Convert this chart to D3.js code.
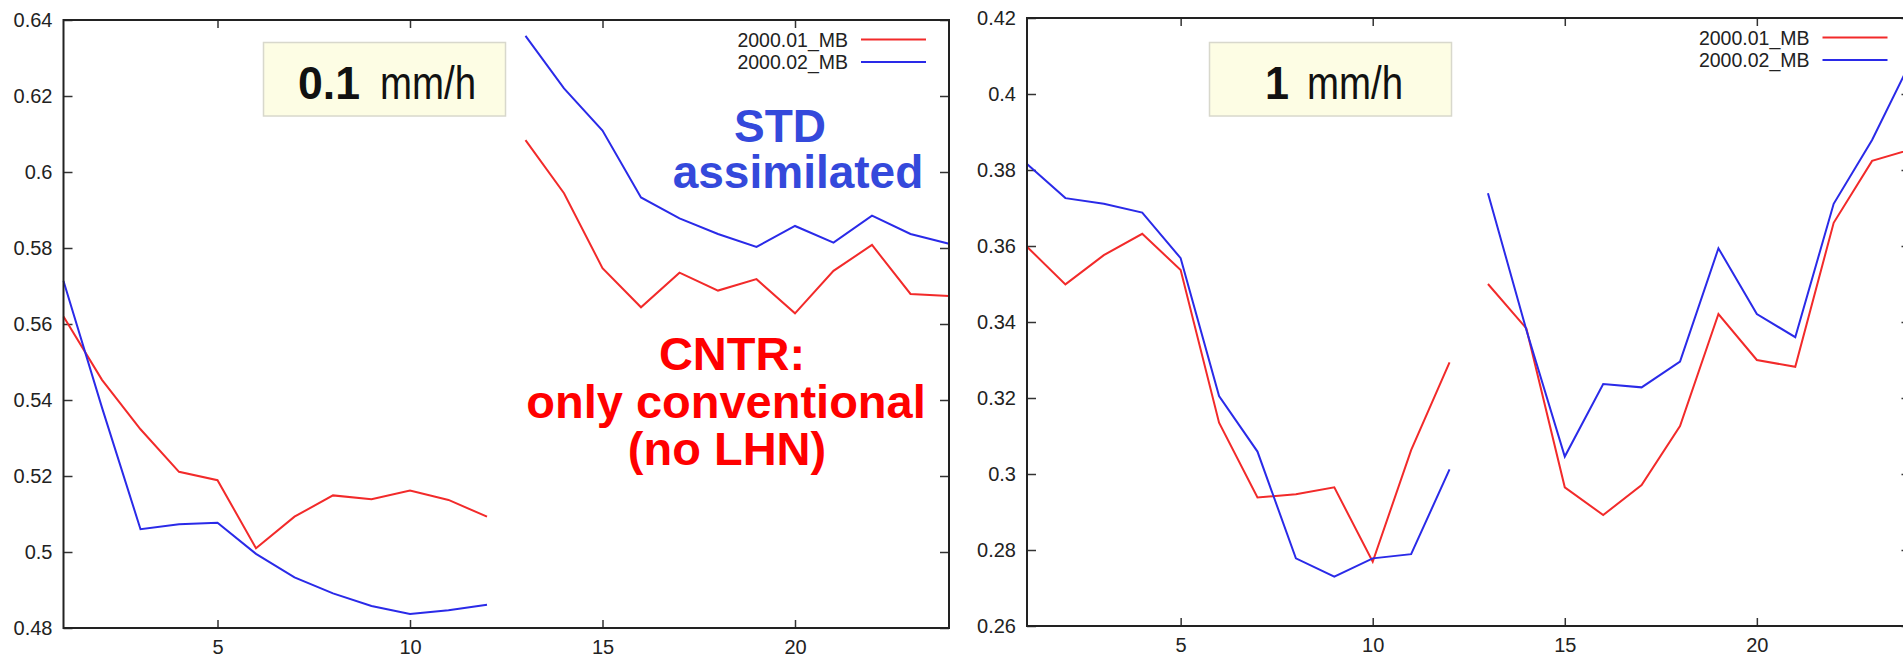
<!DOCTYPE html>
<html>
<head>
<meta charset="utf-8">
<script src="https://cdn.jsdelivr.net/npm/d3@7"></script>
<style>
  body { margin: 0; background: #fff; }
  svg { display: block; font-family: "Liberation Sans", Arial, sans-serif; }
</style>
</head>
<body>
<svg width="1903" height="656"></svg>
<script>
// hour of day, the curves break between 12 and 13
let hours = [1, 2, 3, 4, 5, 6, 7, 8, 9, 10, 11, 12, 13, 14, 15, 16, 17, 18, 19, 20, 21, 22, 23, 24];

let seriesNames = ["2000.01_MB", "2000.02_MB"];
let seriesColors = ["#f22a2a", "#2a2ae8"];

// threshold 0.1 mm/h
let left01 = [0.562, 0.5453, 0.5323, 0.5211, 0.5189, 0.5010, 0.5093, 0.5149, 0.5139, 0.5162, 0.5137, 0.5093,
              0.6084, 0.5944, 0.5747, 0.5644, 0.5735, 0.5688, 0.5718, 0.5628, 0.5740, 0.5808, 0.5679, 0.5674];
let left02 = [0.5713, 0.538, 0.5060, 0.5073, 0.5077, 0.4995, 0.4933, 0.4891, 0.4858, 0.4837, 0.4847, 0.4861,
              0.6358, 0.6220, 0.6109, 0.5933, 0.5878, 0.5837, 0.5803, 0.5858, 0.5814, 0.5885, 0.5837, 0.5811];

// threshold 1 mm/h
let right01 = [0.3598, 0.3499, 0.3576, 0.3632, 0.3537, 0.3135, 0.2938, 0.2947, 0.2965, 0.2769, 0.3063, 0.3294,
               0.3500, 0.3383, 0.2965, 0.2892, 0.2971, 0.3126, 0.3421, 0.3300, 0.3282, 0.3661, 0.3824, 0.3854];
let right02 = [0.3816, 0.3726, 0.3711, 0.3688, 0.3568, 0.3205, 0.3059, 0.2778, 0.2730, 0.2778, 0.2789, 0.3012,
               0.3739, 0.3379, 0.3046, 0.3237, 0.3228, 0.3296, 0.3594, 0.3421, 0.3360, 0.3711, 0.3879, 0.4084];

let xTicks = [5, 10, 15, 20];
let leftYTicks = [0.48, 0.50, 0.52, 0.54, 0.56, 0.58, 0.60, 0.62, 0.64];
let rightYTicks = [0.26, 0.28, 0.30, 0.32, 0.34, 0.36, 0.38, 0.40, 0.42];

let svg = d3.select("svg");

var drawPanel = function(p) {
  let x = d3.scaleLinear().domain([1, 24]).range([p.left, p.right]);
  let y = d3.scaleLinear().domain([p.yTicks[0], p.yTicks[p.yTicks.length - 1]]).range([p.bottom, p.top]);

  let g = svg.append("g");
  let fmt = function(d) { return String(+d.toFixed(2)); };

  // all ticks point inward, only left and bottom get labels
  let yAxisL = d3.axisLeft(y).tickValues(p.yTicks).tickSize(-9).tickSizeOuter(0).tickPadding(11).tickFormat(fmt);
  let yAxisR = d3.axisRight(y).tickValues(p.yTicks).tickSize(-9).tickSizeOuter(0).tickFormat("");
  let xAxisB = d3.axisBottom(x).tickValues(xTicks).tickSize(-8).tickSizeOuter(0).tickPadding(12);
  let xAxisT = d3.axisTop(x).tickValues(xTicks).tickSize(-8).tickSizeOuter(0).tickFormat("");

  g.append("g").attr("transform", "translate(" + p.left + ",0)").call(yAxisL);
  g.append("g").attr("transform", "translate(" + p.right + ",0)").call(yAxisR);
  g.append("g").attr("transform", "translate(0," + p.bottom + ")").call(xAxisB);
  g.append("g").attr("transform", "translate(0," + p.top + ")").call(xAxisT);

  g.selectAll(".domain").remove();
  g.selectAll(".tick line").attr("stroke", "#333").attr("stroke-width", 1.5);
  g.selectAll(".tick text")
    .attr("fill", "#222")
    .style("font-size", "20px")
    .style("font-family", "'Liberation Sans', Arial, sans-serif");

  let line = d3.line()
    .defined(function(d) { return d[1] != null; })
    .x(function(d) { return x(d[0]); })
    .y(function(d) { return y(d[1]); });

  // cut each curve into two pieces, 1-12 and 13-24
  p.series.forEach(function(vals, s) {
    let pts = hours.map(function(h, i) { return [h, vals[i]]; });
    [pts.slice(0, 12), pts.slice(12)].forEach(function(part) {
      g.append("path")
        .attr("d", line(part))
        .attr("fill", "none")
        .attr("stroke", seriesColors[s])
        .attr("stroke-width", 2);
    });
  });

  // frame
  g.append("rect")
    .attr("x", p.left)
    .attr("y", p.top)
    .attr("width", p.right - p.left)
    .attr("height", p.bottom - p.top)
    .attr("fill", "none")
    .attr("stroke", "#222")
    .attr("stroke-width", 2);

  // legend in the top right corner
  seriesNames.forEach(function(name, s) {
    let ly = p.top + 19.5 + s * 22.4;
    g.append("text")
      .attr("x", p.right - 101)
      .attr("y", ly + 7)
      .attr("text-anchor", "end")
      .style("font-size", "19.5px")
      .attr("fill", "#222")
      .text(name);
    g.append("line")
      .attr("x1", p.right - 88)
      .attr("x2", p.right - 23)
      .attr("y1", ly)
      .attr("y2", ly)
      .attr("stroke", seriesColors[s])
      .attr("stroke-width", 2);
  });

  // threshold label box
  g.append("rect")
    .attr("x", p.box[0])
    .attr("y", 42.5)
    .attr("width", p.box[1] - p.box[0])
    .attr("height", 73.5)
    .attr("fill", "#fdfde4")
    .attr("stroke", "#d8d8cc")
    .attr("stroke-width", 1.5);
  g.append("text")
    .attr("x", p.num[0])
    .attr("y", 98.5)
    .attr("textLength", p.num[1])
    .attr("lengthAdjust", "spacingAndGlyphs")
    .style("font-size", "47px")
    .style("font-weight", "bold")
    .attr("fill", "#111")
    .text(p.threshold);
  g.append("text")
    .attr("x", p.unit)
    .attr("y", 98.5)
    .attr("textLength", 96)
    .attr("lengthAdjust", "spacingAndGlyphs")
    .style("font-size", "47px")
    .attr("fill", "#111")
    .text("mm/h");
};

drawPanel({
  left: 63.5, right: 949, top: 20, bottom: 628,
  yTicks: leftYTicks, series: [left01, left02],
  box: [263.5, 505.5], threshold: "0.1", num: [298, 62], unit: 380
});

drawPanel({
  left: 1027, right: 1910.5, top: 18, bottom: 626,
  yTicks: rightYTicks, series: [right01, right02],
  box: [1209.5, 1451.5], threshold: "1", num: [1265, 24], unit: 1307
});

// experiment annotations on the left panel
let blueNotes = [["STD", 780, 142], ["assimilated", 798, 188]];
let redNotes = [["CNTR:", 732, 370], ["only conventional", 726, 417.5], ["(no LHN)", 727, 465]];

blueNotes.forEach(function(n) {
  svg.append("text")
    .attr("x", n[1]).attr("y", n[2])
    .attr("text-anchor", "middle")
    .style("font-size", "46px")
    .style("font-weight", "bold")
    .attr("fill", "#3449db")
    .text(n[0]);
});

redNotes.forEach(function(n) {
  svg.append("text")
    .attr("x", n[1]).attr("y", n[2])
    .attr("text-anchor", "middle")
    .style("font-size", "47px")
    .style("font-weight", "bold")
    .attr("fill", "#ff0000")
    .text(n[0]);
});
</script>
</body>
</html>
